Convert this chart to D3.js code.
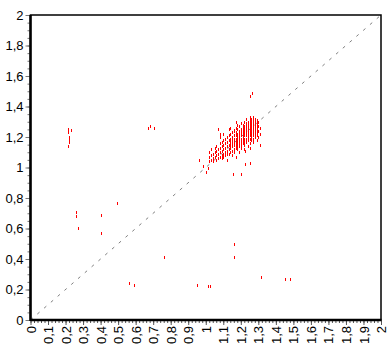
<!DOCTYPE html>
<html>
<head>
<meta charset="utf-8">
<script src="https://cdn.jsdelivr.net/npm/d3@7"></script>
<style>
  body { margin: 0; background: #fff; }
  svg { display: block; }
  text { font-family: "Liberation Sans", Arial, sans-serif; font-size: 13px; fill: #000; }
</style>
</head>
<body>
<div id="chart"></div>
<script>
// isolated points
const outlierX = [0.213, 0.213, 0.23, 0.219, 0.219, 0.219, 0.213, 0.67, 0.682, 0.705, 0.493, 0.259, 0.259,
  0.402, 0.27, 0.402, 0.562, 0.59, 0.762, 0.95, 1.013, 1.025, 1.162, 1.162, 1.316, 1.455, 1.482,
  1.265, 1.253, 0.962, 0.985, 1.002, 1.013, 1.156, 1.202, 1.225, 1.253, 1.253, 1.225,
  1.07, 1.08, 1.14, 1.16, 1.17];
const outlierY = [1.252, 1.233, 1.246, 1.2, 1.19, 1.167, 1.141, 1.259, 1.272, 1.259, 0.767, 0.708, 0.682,
  0.689, 0.603, 0.57, 0.244, 0.23, 0.414, 0.228, 0.22, 0.22, 0.5, 0.414, 0.282, 0.269, 0.269,
  1.487, 1.466, 1.049, 1.01, 0.972, 0.995, 0.957, 0.957, 1.023, 1.03, 1.128, 1.11,
  1.25, 1.22, 1.26, 1.245, 1.30];

// dense cluster: one column of y values per x value
const clusterX = [1.02, 1.03, 1.04, 1.05, 1.06, 1.07, 1.08, 1.09, 1.10, 1.11, 1.12, 1.13, 1.14, 1.15,
  1.16, 1.17, 1.18, 1.19, 1.20, 1.21, 1.22, 1.23, 1.24, 1.25, 1.26, 1.27, 1.28, 1.29, 1.30, 1.31];
const clusterY = [
  [1.04, 1.07, 1.10],
  [1.05, 1.08, 1.12],
  [1.04, 1.06, 1.09],
  [1.07, 1.10, 1.13],
  [1.05, 1.08, 1.11, 1.14],
  [1.06, 1.09, 1.12],
  [1.07, 1.10, 1.13, 1.16, 1.20],
  [1.06, 1.08, 1.11, 1.14, 1.17],
  [1.07, 1.09, 1.12, 1.15, 1.18, 1.22],
  [1.08, 1.10, 1.13, 1.16, 1.19],
  [1.05, 1.09, 1.11, 1.14, 1.17, 1.20],
  [1.09, 1.12, 1.15, 1.18, 1.21, 1.25],
  [1.10, 1.13, 1.15, 1.17, 1.19, 1.22],
  [1.08, 1.11, 1.14, 1.16, 1.18, 1.20, 1.23],
  [1.10, 1.12, 1.15, 1.17, 1.19, 1.21, 1.24],
  [1.07, 1.13, 1.15, 1.17, 1.19, 1.21, 1.23, 1.26],
  [1.12, 1.14, 1.16, 1.18, 1.20, 1.22, 1.25, 1.28],
  [1.10, 1.14, 1.16, 1.18, 1.20, 1.22, 1.24, 1.27],
  [1.13, 1.15, 1.17, 1.19, 1.21, 1.23, 1.25, 1.29],
  [1.16, 1.18, 1.20, 1.22, 1.24, 1.26, 1.28],
  [1.12, 1.15, 1.17, 1.19, 1.21, 1.23, 1.25, 1.27, 1.30],
  [1.17, 1.19, 1.21, 1.23, 1.25, 1.27, 1.29, 1.32],
  [1.14, 1.18, 1.20, 1.22, 1.24, 1.26, 1.28, 1.30],
  [1.16, 1.19, 1.21, 1.23, 1.25, 1.27, 1.29, 1.31, 1.33],
  [1.18, 1.20, 1.22, 1.24, 1.26, 1.28, 1.30, 1.32],
  [1.17, 1.19, 1.21, 1.23, 1.25, 1.27, 1.29, 1.31, 1.33],
  [1.20, 1.22, 1.24, 1.26, 1.28, 1.30, 1.32],
  [1.18, 1.21, 1.23, 1.25, 1.27, 1.29, 1.31],
  [1.20, 1.24, 1.27, 1.30],
  [1.15, 1.22, 1.26]
];

const majorTicks = d3.range(0, 2.001, 0.1);
const yMajorTicks = d3.range(0, 2.001, 0.2);

const W = 389, H = 349;
const x = d3.scaleLinear().domain([0, 2]).range([30.5, 381]);
const y = d3.scaleLinear().domain([0, 2]).range([320, 15]);
const fmt = v => d3.format("~g")(+v.toFixed(2)).replace(".", ",");

const points = outlierX.map((v, i) => ({ x: v, y: outlierY[i] }));
clusterX.forEach((cx, i) => clusterY[i].forEach(cy => points.push({ x: cx, y: cy })));

const svg = d3.select("#chart").append("svg").attr("width", W).attr("height", H);

// frame
svg.append("rect")
  .attr("x", x(0)).attr("y", y(2))
  .attr("width", x(2) - x(0)).attr("height", y(0) - y(2))
  .attr("fill", "none").attr("stroke", "#000").attr("stroke-width", 1.5);

// diagonal reference line
svg.append("line")
  .attr("x1", x(0)).attr("y1", y(0)).attr("x2", x(2)).attr("y2", y(2))
  .attr("stroke", "#808080").attr("stroke-dasharray", "3,6");

// minor ticks
svg.append("g").attr("transform", `translate(0,${y(0)})`)
  .call(d3.axisBottom(x).tickValues(d3.range(0, 2.001, 0.02)).tickSize(3).tickFormat(""))
  .call(g => g.select(".domain").remove())
  .call(g => g.selectAll("line").attr("stroke", "#555"));
svg.append("g").attr("transform", `translate(${x(0)},0)`)
  .call(d3.axisLeft(y).tickValues(d3.range(0, 2.001, 0.05)).tickSize(3).tickFormat(""))
  .call(g => g.select(".domain").remove())
  .call(g => g.selectAll("line").attr("stroke", "#777"));

// major ticks and labels
const xAxis = svg.append("g").attr("transform", `translate(0,${y(0)})`)
  .call(d3.axisBottom(x).tickValues(majorTicks).tickSize(5).tickFormat(fmt))
  .call(g => g.select(".domain").remove())
  .call(g => g.selectAll("line").attr("stroke", "#555"));
xAxis.selectAll("text")
  .attr("transform", "rotate(-90)")
  .attr("text-anchor", "end")
  .attr("x", -6).attr("y", 0).attr("dy", "0.35em")
  .style("font-size", "13px").attr("font-family", null);

svg.append("g").attr("transform", `translate(${x(0)},0)`)
  .call(d3.axisLeft(y).tickValues(yMajorTicks).tickSize(5).tickPadding(2).tickFormat(fmt))
  .call(g => g.select(".domain").remove())
  .call(g => g.selectAll("line").attr("stroke", "#777"))
  .call(g => g.selectAll("text").style("font-size", "13px").attr("font-family", null));

// thick axis lines
svg.append("line").attr("x1", x(0)).attr("x2", x(0)).attr("y1", y(2)).attr("y2", y(0) + 1)
  .attr("stroke", "#000").attr("stroke-width", 2.5);
svg.append("line").attr("x1", x(0)).attr("x2", x(2) + 0.5).attr("y1", y(0)).attr("y2", y(0))
  .attr("stroke", "#000").attr("stroke-width", 2.5);

// red marks
svg.append("g").selectAll("rect")
  .data(points)
  .join("rect")
  .attr("x", d => Math.round(x(d.x)))
  .attr("y", d => Math.round(y(d.y)) - 1)
  .attr("width", 1)
  .attr("height", 2.5)
  .attr("fill", "#ff0000")
  .attr("shape-rendering", "crispEdges");
</script>
</body>
</html>
